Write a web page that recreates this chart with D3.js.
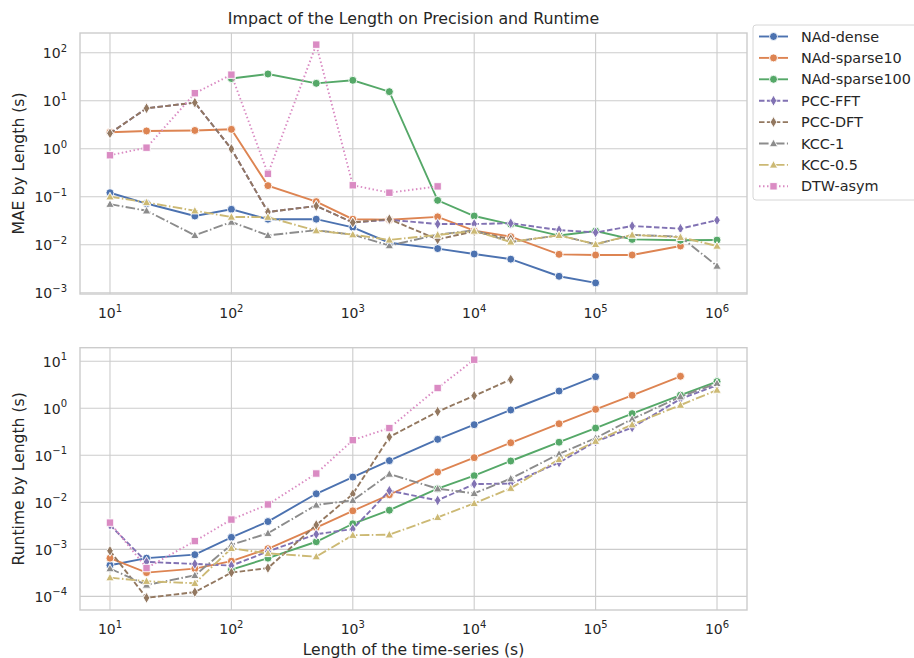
<!DOCTYPE html>
<html>
<head>
<meta charset="utf-8">
<script src="https://cdn.jsdelivr.net/npm/d3@7"></script>
<style>
  body { margin: 0; background: #fff; }
  text { font-family: "DejaVu Sans", sans-serif; fill: #262626; }
</style>
</head>
<body>
<div id="container"></div>
<script>
/* DATA */
const lengths = [10, 20, 50, 100, 200, 500, 1000, 2000, 5000, 10000, 20000, 50000, 100000, 200000, 500000, 1000000];
const methods = ["NAd-dense", "NAd-sparse10", "NAd-sparse100", "PCC-FFT", "PCC-DFT", "KCC-1", "KCC-0.5", "DTW-asym"];

// MAE by length (null = not measured)
const maeDense    = [0.121, 0.072, 0.0396, 0.0546, 0.034, 0.034, 0.023, 0.011, 0.0083, 0.0064, 0.005, 0.0022, 0.0016, null, null, null];
const maeSparse10 = [2.2, 2.34, 2.4, 2.53, 0.17, 0.079, 0.034, 0.033, 0.038, 0.0196, 0.0147, 0.0063, 0.0061, 0.0061, 0.0094, null];
const maeSparse100 = [null, null, null, 29, 36, 23, 26.6, 15.4, 0.084, 0.0396, 0.0266, 0.0155, 0.0193, 0.0129, 0.0124, 0.0125];
const maeFFT      = [2.09, 6.95, 9.1, 0.99, 0.048, 0.064, 0.029, 0.033, 0.027, 0.027, 0.028, 0.0202, 0.018, 0.0245, 0.0216, 0.0324];
const maeDFT      = [2.09, 6.95, 9.1, 0.99, 0.048, 0.064, 0.029, 0.034, 0.0129, 0.019, 0.013, null, null, null, null, null];
const maeKCC1     = [0.07, 0.051, 0.0157, 0.0297, 0.0157, 0.02, 0.0162, 0.0096, 0.0162, 0.02, 0.0114, 0.0157, 0.0102, 0.016, 0.0147, 0.0036];
const maeKCC05    = [0.1, 0.076, 0.051, 0.0378, 0.0375, 0.0196, 0.0162, 0.0126, 0.016, 0.0193, 0.0114, 0.0157, 0.0102, 0.016, 0.0143, 0.0094];
const maeDTW      = [0.73, 1.05, 14.3, 34.8, 0.3, 147, 0.173, 0.121, 0.164, null, null, null, null, null, null, null];

// Runtime by length
const rtDense    = [0.00046, 0.00065, 0.00077, 0.0018, 0.0039, 0.0152, 0.0345, 0.077, 0.219, 0.448, 0.92, 2.33, 4.7, null, null, null];
const rtSparse10 = [0.00065, 0.00032, 0.00039, 0.00056, 0.00103, 0.0029, 0.0066, 0.0145, 0.044, 0.089, 0.185, 0.47, 0.95, 1.89, 4.8, null];
const rtSparse100 = [null, null, null, 0.00037, 0.00065, 0.00145, 0.0035, 0.0068, 0.0195, 0.0368, 0.0757, 0.19, 0.38, 0.77, 1.9, 3.7];
const rtFFT      = [0.0033, 0.00054, 0.00049, 0.00045, 0.0009, 0.0021, 0.0027, 0.0177, 0.011, 0.0245, 0.025, 0.07, 0.195, 0.39, 1.58, 3.1];
const rtDFT      = [0.00093, 0.000093, 0.000123, 0.00032, 0.0004, 0.0033, 0.015, 0.245, 0.85, 1.85, 4.1, null, null, null, null, null];
const rtKCC1     = [0.00039, 0.000175, 0.00028, 0.00125, 0.0022, 0.0088, 0.011, 0.04, 0.0195, 0.0155, 0.032, 0.107, 0.233, 0.59, 1.77, 3.4];
const rtKCC05    = [0.00025, 0.00021, 0.00019, 0.00105, 0.00082, 0.0007, 0.002, 0.00205, 0.0048, 0.0095, 0.02, 0.082, 0.2, 0.45, 1.17, 2.45];
const rtDTW      = [0.0037, 0.0004, 0.0015, 0.0043, 0.009, 0.041, 0.21, 0.38, 2.7, 10.8, null, null, null, null, null, null];

const maeSeries = [maeDense, maeSparse10, maeSparse100, maeFFT, maeDFT, maeKCC1, maeKCC05, maeDTW];
const rtSeries = [rtDense, rtSparse10, rtSparse100, rtFFT, rtDFT, rtKCC1, rtKCC05, rtDTW];

const xTicks = [1e1, 1e2, 1e3, 1e4, 1e5, 1e6];
const maeTicks = [1e-3, 1e-2, 1e-1, 1e0, 1e1, 1e2];
const rtTicks = [1e-4, 1e-3, 1e-2, 1e-1, 1e0, 1e1];

/* STYLE */
const colors = ["#4c72b0", "#dd8452", "#55a868", "#8172b3", "#937860", "#8c8c8c", "#ccb974", "#da8bc3"];
const markers = ["circle", "circle", "circle", "diamond", "diamond", "triangle", "triangle", "square"];
const dashes = [null, null, null, "5.5,2.4", "5.5,2.4", "9.6,2.4,1.5,2.4", "9.6,2.4,1.5,2.4", "1.5,2.5"];
const gridColor = "#cccccc";

const width = 914, height = 658;
const left = 80, right = 747;

const svg = d3.select("#container").append("svg")
  .attr("width", width).attr("height", height);

const xScale = d3.scaleLog()
  .domain([Math.pow(10, 0.753), Math.pow(10, 6.247)])
  .range([left, right]);

function markerPath(type) {
  if (type === "circle") return d3.symbol(d3.symbolCircle, Math.PI * 4 * 4)();
  if (type === "square") return "M-3.7,-3.7H3.7V3.7H-3.7Z";
  if (type === "triangle") return "M0,-4.4L4.2,3.2L-4.2,3.2Z";
  return "M0,-5.5L3.3,0L0,5.5L-3.3,0Z";
}

function powLabel(sel, exp) {
  sel.append("tspan").text("10");
  sel.append("tspan").attr("dy", -6.5).attr("font-size", 10)
    .text(exp < 0 ? "\u2212" + (-exp) : String(exp));
}

function drawPanel(top, bottom, yDomain, yTicks, series, yLabel) {
  const yScale = d3.scaleLog().domain(yDomain).range([bottom, top]);
  const g = svg.append("g");

  // grid
  g.selectAll(".vg").data(xTicks).join("line")
    .attr("x1", d => xScale(d)).attr("x2", d => xScale(d))
    .attr("y1", top).attr("y2", bottom)
    .attr("stroke", gridColor).attr("stroke-width", 1.1);
  g.selectAll(".hg").data(yTicks).join("line")
    .attr("class", "hg")
    .attr("x1", left).attr("x2", right)
    .attr("y1", d => yScale(d)).attr("y2", d => yScale(d))
    .attr("stroke", gridColor).attr("stroke-width", 1.1);

  // frame
  g.append("rect")
    .attr("x", left).attr("y", top)
    .attr("width", right - left).attr("height", bottom - top)
    .attr("fill", "none").attr("stroke", gridColor).attr("stroke-width", 1.4);

  // tick labels
  g.selectAll(".xt").data(xTicks).join("text")
    .attr("class", "xt")
    .attr("x", d => xScale(d)).attr("y", bottom + 24)
    .attr("text-anchor", "middle").attr("font-size", 14)
    .each(function(d) { powLabel(d3.select(this), Math.round(Math.log10(d))); });
  g.selectAll(".yt").data(yTicks).join("text")
    .attr("class", "yt")
    .attr("x", 67).attr("y", d => yScale(d) + 5.5)
    .attr("text-anchor", "end").attr("font-size", 14)
    .each(function(d) { powLabel(d3.select(this), Math.round(Math.log10(d))); });

  g.append("text")
    .attr("transform", `translate(24, ${(top + bottom) / 2}) rotate(-90)`)
    .attr("text-anchor", "middle").attr("font-size", 15.6)
    .text(yLabel);

  // lines and markers, series by series
  const line = d3.line()
    .defined(d => d[1] !== null)
    .x(d => xScale(d[0])).y(d => yScale(d[1]));

  series.forEach((vals, i) => {
    const pts = lengths.map((x, j) => [x, vals[j]]);
    g.append("path")
      .attr("d", line(pts))
      .attr("fill", "none")
      .attr("stroke", colors[i])
      .attr("stroke-width", 1.9)
      .attr("stroke-dasharray", dashes[i]);
    g.selectAll(null).data(pts.filter(p => p[1] !== null)).join("path")
      .attr("transform", p => `translate(${xScale(p[0])},${yScale(p[1])})`)
      .attr("d", markerPath(markers[i]))
      .attr("fill", colors[i])
      .attr("stroke", "#fff").attr("stroke-width", 0.9);
  });
}

drawPanel(33, 294, [Math.pow(10, -3.027), Math.pow(10, 2.41)], maeTicks, maeSeries, "MAE by Length (s)");
drawPanel(347.7, 610, [Math.pow(10, -4.29), Math.pow(10, 1.289)], rtTicks, rtSeries, "Runtime by Length (s)");

// title and x label
svg.append("text")
  .attr("x", (left + right) / 2).attr("y", 24)
  .attr("text-anchor", "middle").attr("font-size", 15.8)
  .text("Impact of the Length on Precision and Runtime");
svg.append("text")
  .attr("x", (left + right) / 2).attr("y", 655)
  .attr("text-anchor", "middle").attr("font-size", 15.6)
  .text("Length of the time-series (s)");

/* LEGEND */
const legend = svg.append("g");
legend.append("rect")
  .attr("x", 753).attr("y", 25).attr("width", 175).attr("height", 175)
  .attr("rx", 3).attr("fill", "#fff").attr("stroke", "#d6d6d6").attr("stroke-width", 1);
methods.forEach((m, i) => {
  const y = 36.5 + i * 21.4;
  legend.append("line")
    .attr("x1", 759).attr("x2", 788).attr("y1", y).attr("y2", y)
    .attr("stroke", colors[i]).attr("stroke-width", 1.9)
    .attr("stroke-dasharray", dashes[i]);
  legend.append("path")
    .attr("transform", `translate(773.5,${y})`)
    .attr("d", markerPath(markers[i]))
    .attr("fill", colors[i]).attr("stroke", "#fff").attr("stroke-width", 0.9);
  legend.append("text")
    .attr("x", 801).attr("y", y + 5).attr("font-size", 14.4)
    .text(m);
});
</script>
</body>
</html>
